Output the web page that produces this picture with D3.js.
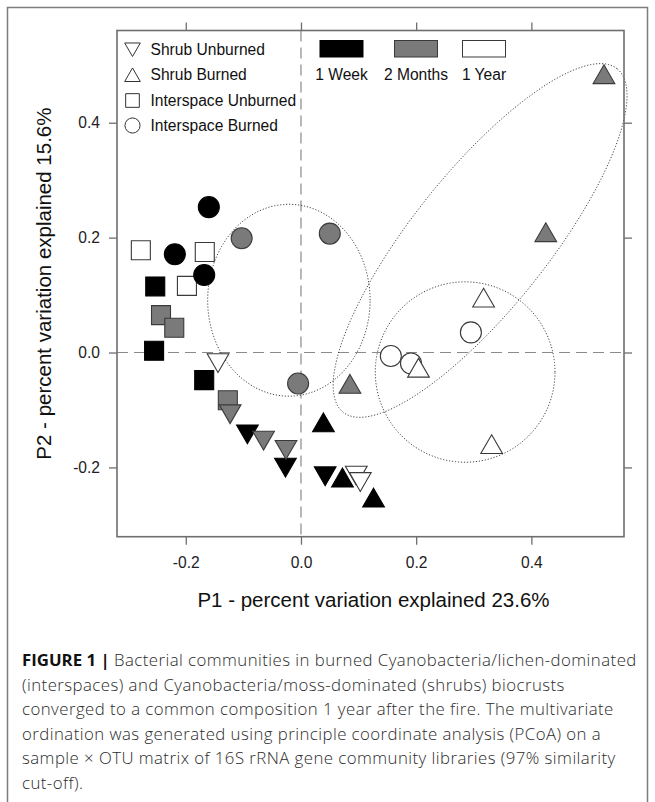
<!DOCTYPE html>
<html>
<head>
<meta charset="utf-8">
<script src="https://cdn.jsdelivr.net/npm/d3@7"></script>
<style>
  html, body { margin: 0; padding: 0; background: #fff; }
  svg { display: block; }
  text { font-family: "Liberation Sans", Arial, Helvetica, sans-serif; }
</style>
</head>
<body>
<svg id="fig" width="655" height="802"></svg>
<script>
// PCoA scores (P1, P2) per sample, with site type and time since fire
const sampleType = [
  "Interspace Unburned","Interspace Unburned","Interspace Unburned",
  "Interspace Unburned","Interspace Unburned","Interspace Unburned",
  "Interspace Unburned","Interspace Unburned","Interspace Unburned",
  "Interspace Burned","Interspace Burned","Interspace Burned",
  "Interspace Burned","Interspace Burned","Interspace Burned",
  "Interspace Burned","Interspace Burned","Interspace Burned",
  "Shrub Burned","Shrub Burned","Shrub Burned",
  "Shrub Burned","Shrub Burned","Shrub Burned",
  "Shrub Burned","Shrub Burned","Shrub Burned",
  "Shrub Unburned","Shrub Unburned","Shrub Unburned",
  "Shrub Unburned","Shrub Unburned","Shrub Unburned",
  "Shrub Unburned","Shrub Unburned","Shrub Unburned"
];
const sampleTime = [
  "1 Week","1 Week","1 Week","2 Months","2 Months","2 Months","1 Year","1 Year","1 Year",
  "1 Week","1 Week","1 Week","2 Months","2 Months","2 Months","1 Year","1 Year","1 Year",
  "1 Week","1 Week","1 Week","2 Months","2 Months","2 Months","1 Year","1 Year","1 Year",
  "1 Week","1 Week","1 Week","2 Months","2 Months","2 Months","1 Year","1 Year","1 Year"
];
const p1 = [
  -0.253, -0.255, -0.168,  -0.243, -0.220, -0.127,  -0.278, -0.167, -0.198,
  -0.160, -0.219, -0.168,  -0.103,  0.050, -0.005,   0.156,  0.191,  0.295,
   0.039,  0.072,  0.126,   0.085,  0.425,  0.526,   0.204,  0.317,  0.331,
  -0.093, -0.027,  0.042,  -0.123, -0.065, -0.026,  -0.144,  0.096,  0.103
];
const p2 = [
   0.115,  0.003, -0.048,   0.065,  0.043, -0.083,   0.178,  0.175,  0.116,
   0.253,  0.171,  0.135,   0.199,  0.207, -0.054,  -0.006, -0.019,  0.035,
  -0.127, -0.223, -0.258,  -0.060,  0.204,  0.479,  -0.032,  0.090, -0.165,
  -0.137, -0.195, -0.210,  -0.102, -0.148, -0.164,  -0.013, -0.209, -0.220
];

// Dispersion ellipses: centre, semi-axes and rotation (degrees)
const ellipseCx = [-0.021, 0.311, 0.285];
const ellipseCy = [0.091, 0.195, -0.034];
const ellipseA = [0.141, 0.382, 0.156];
const ellipseB = [0.167, 0.118, 0.157];
const ellipseAngle = [0, 51.5, 0];

const typeNames = ["Shrub Unburned","Shrub Burned","Interspace Unburned","Interspace Burned"];
const timeNames = ["1 Week","2 Months","1 Year"];
const tickValues = [-0.2, 0.0, 0.2, 0.4];
const tickLabels = ["-0.2","0.0","0.2","0.4"];
const xTitle = "P1 - percent variation explained 23.6%";
const yTitle = "P2 - percent variation explained 15.6%";
const captionBold = "FIGURE 1 | ";
const captionLines = [
  "Bacterial communities in burned Cyanobacteria/lichen-dominated",
  "(interspaces) and Cyanobacteria/moss-dominated (shrubs) biocrusts",
  "converged to a common composition 1 year after the fire. The multivariate",
  "ordination was generated using principle coordinate analysis (PCoA) on a",
  "sample \u00d7 OTU matrix of 16S rRNA gene community libraries (97% similarity",
  "cut-off)."
];

const svg = d3.select("#fig");
const plot = { left: 117, right: 624, top: 30.5, bottom: 536.7 };

const x = d3.scaleLinear().domain([-0.3194, 0.5608]).range([plot.left, plot.right]);
const y = d3.scaleLinear().domain([-0.3206, 0.5605]).range([plot.bottom, plot.top]);

const fillScale = d3.scaleOrdinal().domain(timeNames).range(["#000000", "#7a7a7a", "#ffffff"]);
const strokeScale = d3.scaleOrdinal().domain(timeNames).range(["#000000", "#3a3a3a", "#3a3a3a"]);

// figure frame
svg.append("path")
  .attr("d", "M7.5,802 V7.5 H647.5 V802")
  .attr("fill", "none").attr("stroke", "#7d7d7d").attr("stroke-width", 1.5);

// reference lines through the origin
const g = svg.append("g");
g.append("line")
  .attr("x1", x(0)).attr("x2", x(0)).attr("y1", plot.top).attr("y2", plot.bottom)
  .attr("stroke", "#8a8a8a").attr("stroke-width", 1.2).attr("stroke-dasharray", "11,6");
g.append("line")
  .attr("x1", plot.left).attr("x2", plot.right).attr("y1", y(0)).attr("y2", y(0))
  .attr("stroke", "#8a8a8a").attr("stroke-width", 1.2).attr("stroke-dasharray", "11,6");

// ellipses
const ellipsePath = d3.line().curve(d3.curveLinearClosed);
ellipseCx.forEach((cx, i) => {
  const phi = ellipseAngle[i] * Math.PI / 180;
  const pts = d3.range(0, 360, 2).map(t => {
    const tr = t * Math.PI / 180;
    const ex = ellipseA[i] * Math.cos(tr), ey = ellipseB[i] * Math.sin(tr);
    return [x(cx + ex * Math.cos(phi) - ey * Math.sin(phi)),
            y(ellipseCy[i] + ex * Math.sin(phi) + ey * Math.cos(phi))];
  });
  g.append("path").attr("d", ellipsePath(pts))
    .attr("fill", "none").attr("stroke", "#444").attr("stroke-width", 1)
    .attr("stroke-dasharray", "1.2,1.8");
});

// symbol for each site type
function symbolFor(type, scale) {
  const k = scale || 1;
  if (type === "Interspace Burned") return { sym: d3.symbolCircle, size: 346 * k * k, rot: 0 };
  if (type === "Interspace Unburned") return { sym: d3.symbolSquare, size: 361 * k * k, rot: 0 };
  if (type === "Shrub Burned") return { sym: d3.symbolTriangle, size: 204 * k * k, rot: 0 };
  return { sym: d3.symbolTriangle, size: 204 * k * k, rot: 180 };
}

const samples = p1.map((v, i) => ({ p1: v, p2: p2[i], type: sampleType[i], time: sampleTime[i] }));
const drawOrder = ["Interspace Unburned", "Interspace Burned", "Shrub Unburned", "Shrub Burned"];
samples.sort((a, b) => drawOrder.indexOf(a.type) - drawOrder.indexOf(b.type));

g.selectAll("path.pt").data(samples).join("path")
  .attr("class", "pt")
  .attr("d", d => { const s = symbolFor(d.type); return d3.symbol(s.sym, s.size)(); })
  .attr("transform", d => `translate(${x(d.p1)},${y(d.p2)}) rotate(${symbolFor(d.type).rot})`)
  .attr("fill", d => fillScale(d.time))
  .attr("stroke", d => strokeScale(d.time))
  .attr("stroke-width", 1.1);

// axes (labels on left/bottom, ticks on all sides)
const axisStyle = sel => {
  sel.select(".domain").remove();
  sel.selectAll(".tick line").attr("stroke", "#6e6e6e").attr("stroke-width", 1.3);
  sel.selectAll(".tick text").attr("fill", "#222").style("font-size", "15.6px")
    .style("font-family", "'Liberation Sans', Arial, sans-serif");
};
svg.append("g").attr("transform", `translate(0,${plot.bottom})`)
  .call(d3.axisBottom(x).tickValues(tickValues).tickFormat((d, i) => tickLabels[i]).tickSize(8).tickPadding(12))
  .call(axisStyle);
svg.append("g").attr("transform", `translate(0,${plot.top})`)
  .call(d3.axisTop(x).tickValues(tickValues).tickFormat("").tickSize(8))
  .call(axisStyle);
svg.append("g").attr("transform", `translate(${plot.left},0)`)
  .call(d3.axisLeft(y).tickValues(tickValues).tickFormat((d, i) => tickLabels[i]).tickSize(8).tickPadding(9))
  .call(axisStyle);
svg.append("g").attr("transform", `translate(${plot.right},0)`)
  .call(d3.axisRight(y).tickValues(tickValues).tickFormat("").tickSize(8))
  .call(axisStyle);

// plot box
svg.append("rect")
  .attr("x", plot.left).attr("y", plot.top)
  .attr("width", plot.right - plot.left).attr("height", plot.bottom - plot.top)
  .attr("fill", "none").attr("stroke", "#6e6e6e").attr("stroke-width", 1.6);

// axis titles
svg.append("text")
  .attr("x", (plot.left + plot.right) / 2 + 3).attr("y", 607)
  .attr("text-anchor", "middle").style("font-size", "20.5px").attr("fill", "#111")
  .text(xTitle);
svg.append("text")
  .attr("transform", `translate(51,${(plot.top + plot.bottom) / 2}) rotate(-90)`)
  .attr("text-anchor", "middle").style("font-size", "20.5px").attr("fill", "#111")
  .text(yTitle);

// legend: site types
const legendRowY = [49.5, 75, 100.5, 125.5];
const leg = svg.append("g");
typeNames.forEach((t, i) => {
  const s = symbolFor(t, 0.72);
  const cy = legendRowY[i] + (t.startsWith("Shrub") ? (t === "Shrub Burned" ? 2 : -2) : 0);
  leg.append("path")
    .attr("d", d3.symbol(s.sym, s.size)())
    .attr("transform", `translate(132.5,${cy}) rotate(${s.rot})`)
    .attr("fill", "none").attr("stroke", "#333").attr("stroke-width", 1);
  leg.append("text").attr("x", 150.5).attr("y", legendRowY[i]).attr("dy", "0.35em")
    .style("font-size", "15.6px").attr("fill", "#111").text(t);
});

// legend: time since fire
const timeLegendX = [341.5, 416, 484];
timeNames.forEach((t, i) => {
  leg.append("rect")
    .attr("x", timeLegendX[i] - 21.5).attr("y", 40.5).attr("width", 43).attr("height", 16.5)
    .attr("fill", fillScale(t)).attr("stroke", t === "1 Week" ? "#000" : "#3a3a3a").attr("stroke-width", 1);
  leg.append("text").attr("x", timeLegendX[i]).attr("y", 75).attr("dy", "0.35em")
    .attr("text-anchor", "middle").style("font-size", "15.6px").attr("fill", "#111").text(t);
});

// caption
const cap = svg.append("g");
const capY = [666, 690.5, 715, 739.5, 764, 788.5];
captionLines.forEach((line, i) => {
  const tx = cap.append("text").attr("x", 22).attr("y", capY[i])
    .style("font-family", "'Open Sans', 'Liberation Sans', sans-serif")
    .style("font-size", "16.8px").style("font-weight", 300)
    .style("letter-spacing", "0.45px").attr("fill", "#2b2b2b");
  if (i === 0) {
    tx.append("tspan").style("font-weight", "bold").style("letter-spacing", "0px")
      .attr("fill", "#111").text(captionBold);
  }
  tx.append("tspan").text(line);
});
</script>
</body>
</html>
